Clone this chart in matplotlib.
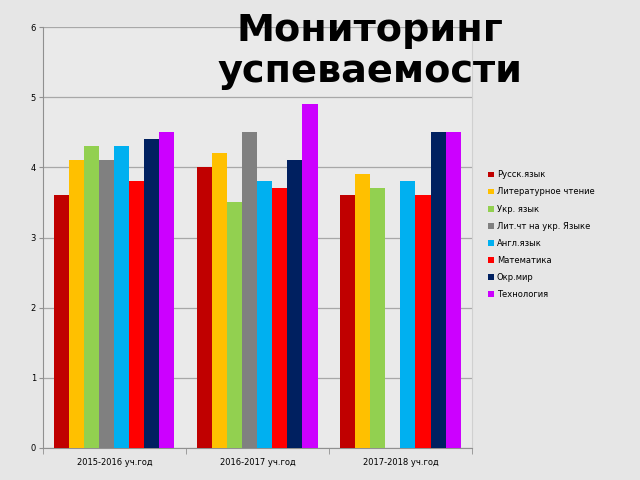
import matplotlib
matplotlib.use("Agg")
import matplotlib.pyplot as plt
import numpy as np

categories = ["2015-2016 уч.год", "2016-2017 уч.год", "2017-2018 уч.год"]
series_names = ["Русск.язык", "Литературное чтение", "Укр. язык", "Лит.чт на укр. Языке",
                "Англ.язык", "Математика", "Окр.мир", "Технология"]
values = {
    "Русск.язык": [3.6, 4.0, 3.6],
    "Литературное чтение": [4.1, 4.2, 3.9],
    "Укр. язык": [4.3, 3.5, 3.7],
    "Лит.чт на укр. Языке": [4.1, 4.5, 0.0],
    "Англ.язык": [4.3, 3.8, 3.8],
    "Математика": [3.8, 3.7, 3.6],
    "Окр.мир": [4.4, 4.1, 4.5],
    "Технология": [4.5, 4.9, 4.5],
}
colors = ["#C00000", "#FFC000", "#92D050", "#808080", "#00B0F0", "#FF0000", "#002060", "#CC00FF"]

plt.rcParams['font.family'] = ['DejaVu Sans']
fig = plt.figure(figsize=(6.4, 4.8), dpi=100)
fig.patch.set_facecolor("#E6E6E6")
ax = fig.add_axes([0.067, 0.0667, 0.6705, 0.877])
ax.set_facecolor("#EAEAEA")

x = np.arange(len(categories))
bw = 0.105
n = len(series_names)
for i, (name, c) in enumerate(zip(series_names, colors)):
    off = (i - (n - 1) / 2) * bw
    ax.bar(x + off, values[name], width=bw, color=c, label=name, zorder=3)

ax.set_xlim(-0.5, 2.5)
ax.set_ylim(0, 6)
ax.set_yticks(range(0, 7))
ax.yaxis.grid(True, color="#A8A8A8", linewidth=0.9, zorder=0)
ax.set_xticks(x)
ax.set_xticklabels(categories, fontsize=6)
ax.set_xticks([-0.5, 0.5, 1.5, 2.5], minor=True)
ax.tick_params(axis="x", which="major", length=0, pad=7)
ax.tick_params(axis="x", which="minor", length=4, color="#909090")
ax.tick_params(axis="y", labelsize=6, length=3, color="#909090", pad=2)
for s in ["left", "bottom"]:
    ax.spines[s].set_color("#909090")
ax.spines["top"].set_visible(False)
ax.spines["right"].set_color("#D0D0D0")

leg = fig.legend(loc="upper left", bbox_to_anchor=(0.757, 0.652), frameon=False,
                 fontsize=6, handlelength=0.7, handleheight=0.7, handletextpad=0.4,
                 labelspacing=0.97, borderaxespad=0)

fig.text(0.578, 0.893, "Мониторинг\nуспеваемости", ha="center", va="center",
         fontsize=27.5, fontweight="bold", color="black", linespacing=1.2, zorder=10)

fig.savefig("out.png", dpi=100, facecolor=fig.get_facecolor())
